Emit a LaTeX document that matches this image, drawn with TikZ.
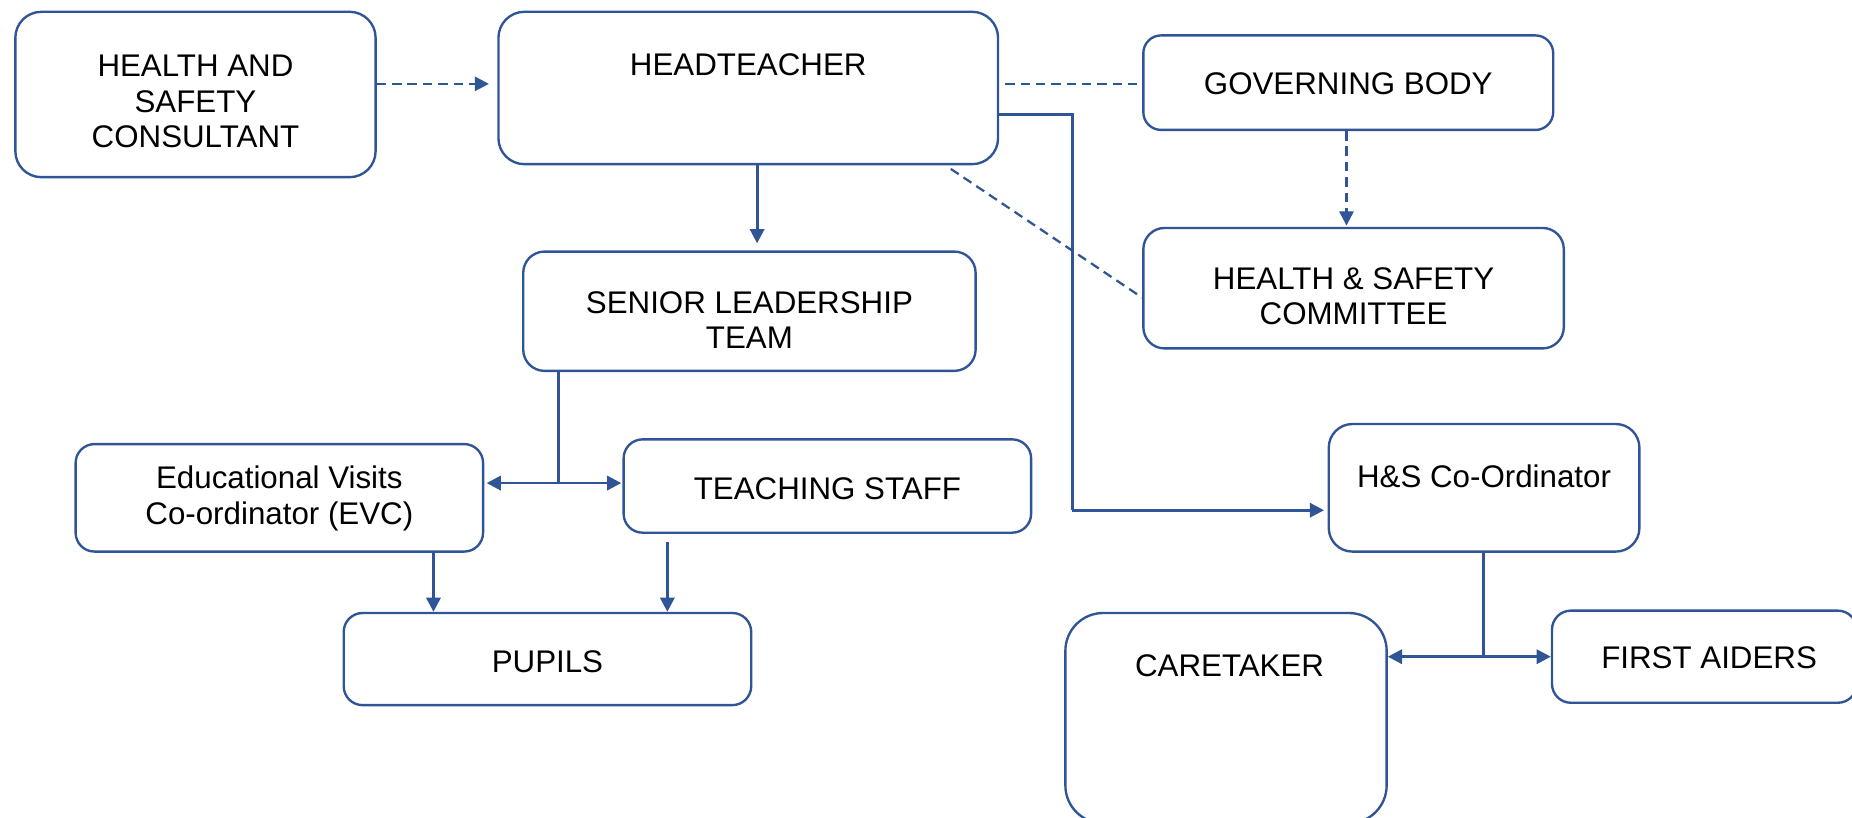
\documentclass[tikz,border=0pt]{standalone}
\usepackage{fontspec}
\setmainfont{Liberation Sans}
\usetikzlibrary{arrows.meta}
\definecolor{bl}{RGB}{47,85,151}
\begin{document}
\begin{tikzpicture}[x=1pt,y=-1pt,
  box/.style={draw=bl, line width=2pt, rounded corners=#1, inner sep=0pt},
  box/.default=16pt,
  txt/.style={font=\fontsize{26.5}{30}\selectfont, align=center, text=black, inner sep=0pt},
  conn/.style={draw=bl, line width=2.4pt},
  dconn/.style={draw=bl, line width=1.9pt, dash pattern=on 8pt off 5pt},
  >={Triangle[length=12pt,width=12pt]}]
\useasboundingbox (0,0) rectangle (1568,692);
% boxes
\node[box=22pt, minimum width=305pt, minimum height=140pt] (hsc) at (165.5,80) {};
\node[box=22pt, minimum width=423pt, minimum height=129pt] (head) at (633.5,74.5) {};
\node[box=15pt, minimum width=347pt, minimum height=80pt] (gov) at (1141.5,70) {};
\node[box=18pt, minimum width=356pt, minimum height=102pt] (comm) at (1146,244) {};
\node[box=18pt, minimum width=383pt, minimum height=101pt] (slt) at (634.5,263.5) {};
\node[box=16pt, minimum width=345pt, minimum height=91pt] (evc) at (236.5,421.5) {};
\node[box=16pt, minimum width=345pt, minimum height=79pt] (teach) at (700.5,411.5) {};
\node[box=16pt, minimum width=345pt, minimum height=78pt] (pupils) at (463.5,558) {};
\node[box=20pt, minimum width=263pt, minimum height=108pt] (hsco) at (1256.5,413) {};
\node[box=32pt, minimum width=272pt, minimum height=178pt] (care) at (1038,608) {};
\node[box=16pt, minimum width=258pt, minimum height=78pt] (fa) at (1443,556) {};
% texts
\node[txt] (hsc-t) at (165.5,86) {HEALTH AND\\SAFETY\\CONSULTANT};
\node[txt] (head-t) at (633.5,55) {HEADTEACHER};
\node[txt] (gov-t) at (1141.5,71) {GOVERNING BODY};
\node[txt] (comm-t) at (1146,251) {HEALTH \& SAFETY\\COMMITTEE};
\node[txt] (slt-t) at (634.5,271) {SENIOR LEADERSHIP\\TEAM};
\node[txt] (evc-t) at (236.5,422) {Educational Visits\\Co-ordinator (EVC)};
\node[txt] (teach-t) at (700.5,414) {TEACHING STAFF};
\node[txt] (pupils-t) at (463.5,560) {PUPILS};
\node[txt] (hsco-t) at (1256.5,403) {H\&S Co-Ordinator};
\node[txt] (care-t) at (1041,564) {CARETAKER};
\node[txt] (fa-t) at (1447,557) {FIRST AIDERS};
% junction coordinates
\coordinate (j1) at (473,409);
\coordinate (j2) at (1256,556);
\coordinate (k1) at (908,97);
\coordinate (k2) at (908,432);
% connectors
\draw[dconn,->] (hsc.east |- 0,71) -- ([xshift=-7pt]head.west |- 0,71);
\draw[dconn] ([xshift=5pt]head.east |- 0,71) -- ([xshift=-3pt]gov.west |- 0,71);
\draw[dconn] (805,143) -- (comm.west |- 0,252);
\draw[dconn,->] (gov.south -| 1140,0) -- ([yshift=1pt]comm.north -| 1140,0);
\draw[conn,->] (head.south -| 641,0) -- ([yshift=6pt]slt.north -| 641,0);
\draw[conn] (head.east |- k1) -- (k1) -- (k2);
\draw[conn,->] (k2) -- ([xshift=-3pt]hsco.west |- k2);
\draw[conn] (slt.south -| j1) -- (j1);
\draw[conn,<->] ([xshift=2pt]evc.east |- j1) -- ([xshift=-1pt]teach.west |- j1);
\draw[conn,->] (evc.south -| 367,0) -- (pupils.north -| 367,0);
\draw[conn,->] ([yshift=-7pt]teach.south -| 565,0) -- (pupils.north -| 565,0);
\draw[conn] (hsco.south -| j2) -- (j2);
\draw[conn,<->] (care.east |- j2) -- (fa.west |- j2);
\end{tikzpicture}
\end{document}
